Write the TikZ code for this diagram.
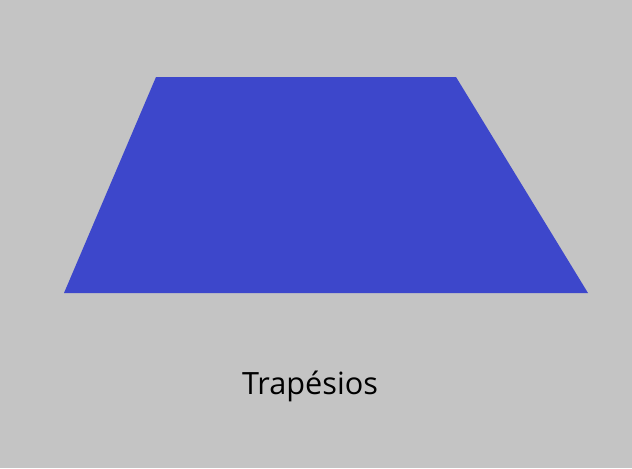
\documentclass[tikz,border=0pt]{standalone}
\usepackage{fontspec}
\setmainfont{Open Sans}
\definecolor{bgGrey}{HTML}{C4C4C4}
\definecolor{shapeBlue}{HTML}{3D47CB}
\begin{document}
\begin{tikzpicture}[x=0.75pt, y=-0.75pt, every node/.style={font=\fontsize{23}{27}\selectfont}]
  % Background
  \fill[bgGrey] (0,0) rectangle (632,468);
  \useasboundingbox (0,0) rectangle (632,468);

  % Shape
  \coordinate (topleft) at (156,77);
  \coordinate (topright) at (456,77);
  \coordinate (bottomright) at (588,293);
  \coordinate (bottomleft) at (64,293);
  \fill[shapeBlue] (topleft) -- (topright) -- (bottomright) -- (bottomleft) -- cycle;

  % Label
  \node (label) [anchor=base] at (310,394) {Trapésios};
\end{tikzpicture}
\end{document}
